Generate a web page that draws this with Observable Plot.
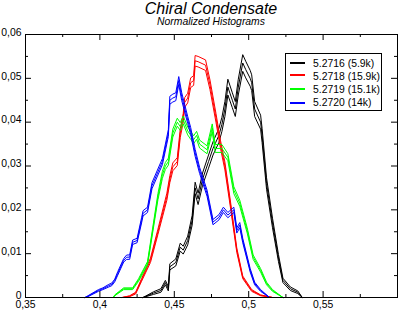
<!DOCTYPE html>
<html>
<head>
<meta charset="utf-8">
<script src="https://cdn.jsdelivr.net/npm/d3@7"></script>
<script src="https://cdn.jsdelivr.net/npm/@observablehq/plot@0.6"></script>
<style>
  html, body { margin: 0; padding: 0; background: #fff; }
  #wrap { position: relative; width: 399px; height: 310px; font-family: "Liberation Sans", Arial, sans-serif; }
  #wrap svg { position: absolute; left: 0; top: 0; }
  .title { position: absolute; left: 25px; width: 372px; text-align: center; font-style: italic; line-height: 1; color: #000; }
  #t1 { top: 0.5px; font-size: 16px; }
  #t2 { top: 16.7px; font-size: 10.4px; }
  #legend { position: absolute; left: 285px; top: 53px; width: 97px; height: 58px; box-sizing: border-box;
            border: 1px solid #000; background: #fff; }
  #legend .sw { position: absolute; left: 4px; width: 15px; height: 0; border-top: 2px solid; }
  #legend .tx { position: absolute; left: 27px; height: 13px; line-height: 13px; font-size: 10.4px; white-space: nowrap; color: #000; }
</style>
</head>
<body>
<div id="wrap">
  <div class="title" id="t1">Chiral Condensate</div>
  <div class="title" id="t2">Normalized Histograms</div>
</div>
<script>
// ---- data ----
const seriesNames = ["5.2716 (5.9k)", "5.2718 (15.9k)", "5.2719 (15.1k)", "5.2720 (14k)"];
const seriesColors = ["#000000", "#ff0000", "#00ff00", "#0000ff"];

const x5716 = [0.429,0.436,0.441,0.444,0.446,0.447,0.451,0.454,0.456,0.459,0.462,0.464,0.466,0.469,0.473,0.476,0.480,0.482,0.484,0.486,0.489,0.491,0.493,0.496,0.498,0.501,0.502,0.504,0.508,0.509,0.512,0.516,0.520,0.523,0.528,0.533,0.536];
const y5716 = [0,0.001,0.0016,0.0034,0.002,0.007,0.008,0.0115,0.0108,0.013,0.0176,0.025,0.0225,0.027,0.031,0.034,0.037,0.0395,0.043,0.048,0.045,0.043,0.048,0.0535,0.052,0.050,0.049,0.043,0.040,0.037,0.026,0.017,0.009,0.0039,0.002,0.0012,0];
const e5716 = [0,0.0003,0.0004,0.0005,0.0005,0.0007,0.0008,0.0009,0.0009,0.001,0.0011,0.0013,0.0013,0.0014,0.0015,0.0015,0.0016,0.0016,0.0017,0.0018,0.0017,0.0017,0.0018,0.0019,0.0019,0.0018,0.0018,0.0017,0.0016,0.0016,0.0013,0.0011,0.0008,0.0005,0.0004,0.0003,0];

const x5718 = [0.415,0.420,0.424,0.428,0.434,0.439,0.445,0.447,0.449,0.452,0.454,0.456,0.457,0.459,0.461,0.463,0.464,0.466,0.471,0.474,0.478,0.481,0.484,0.488,0.492,0.496,0.502,0.508,0.516];
const y5718 = [0,0.0003,0.001,0.004,0.0085,0.015,0.023,0.027,0.0298,0.031,0.0375,0.041,0.0445,0.0455,0.049,0.0495,0.054,0.0538,0.053,0.0485,0.041,0.035,0.030,0.0206,0.0108,0.0046,0.0016,0.0005,0];
const e5718 = [0,0.0001,0.0002,0.0003,0.0005,0.0006,0.0008,0.0008,0.0009,0.0009,0.001,0.001,0.0011,0.0011,0.0011,0.0011,0.0012,0.0012,0.0012,0.0011,0.001,0.0009,0.0009,0.0007,0.0005,0.0003,0.0002,0.0001,0];

const x5719 = [0.409,0.410,0.416,0.422,0.426,0.432,0.439,0.442,0.444,0.446,0.449,0.452,0.454,0.456,0.459,0.461,0.463,0.465,0.467,0.472,0.4755,0.4775,0.482,0.486,0.490,0.494,0.499,0.503,0.508,0.512,0.516,0.523];
const y5719 = [0,0.0005,0.002,0.002,0.004,0.0078,0.023,0.028,0.030,0.031,0.0375,0.040,0.039,0.0405,0.038,0.037,0.036,0.037,0.035,0.0337,0.0387,0.034,0.034,0.032,0.0245,0.0215,0.0153,0.0092,0.0062,0.0032,0.0016,0];
const e5719 = [0,0.0001,0.0002,0.0002,0.0003,0.0004,0.0007,0.0008,0.0008,0.0008,0.0009,0.0009,0.0009,0.0009,0.0009,0.0009,0.0009,0.0009,0.0009,0.0009,0.0009,0.0009,0.0009,0.0008,0.0008,0.0007,0.0006,0.0005,0.0004,0.0003,0.0002,0];

const x5720 = [0.390,0.392,0.399,0.402,0.406,0.408,0.410,0.412,0.416,0.418,0.420,0.422,0.425,0.428,0.429,0.432,0.435,0.442,0.446,0.447,0.449,0.451,0.453,0.455,0.459,0.461,0.464,0.467,0.472,0.476,0.480,0.483,0.486,0.490,0.492,0.494,0.496,0.501,0.504,0.508,0.514];
const y5720 = [0,0.0003,0.0016,0.002,0.0027,0.003,0.0039,0.0055,0.0085,0.0092,0.0092,0.0126,0.013,0.0176,0.0192,0.020,0.0255,0.031,0.0375,0.045,0.0455,0.0458,0.0495,0.0458,0.0405,0.038,0.033,0.029,0.0238,0.0172,0.0183,0.020,0.0188,0.020,0.0153,0.0165,0.013,0.0062,0.0032,0.0016,0];
const e5720 = [0,0.0001,0.0002,0.0002,0.0003,0.0003,0.0003,0.0004,0.0004,0.0005,0.0005,0.0005,0.0005,0.0006,0.0006,0.0006,0.0007,0.0007,0.0008,0.0009,0.0009,0.0009,0.0009,0.0009,0.0008,0.0008,0.0008,0.0007,0.0007,0.0006,0.0006,0.0006,0.0006,0.0006,0.0006,0.0006,0.0005,0.0004,0.0003,0.0002,0];

const xMajor = [0.35, 0.4, 0.45, 0.5, 0.55];
const xMinor = [0.375, 0.425, 0.475, 0.525, 0.575];
const yMajor = [0, 0.01, 0.02, 0.03, 0.04, 0.05, 0.06];
const yMinor = [0.005, 0.015, 0.025, 0.035, 0.045, 0.055];

// ---- build ----
const W = 399, H = 310;
const mT = 34, mB = 13, mL = 25, mR = 2;
const innerW = W - mL - mR, innerH = H - mT - mB;
const majLen = 6, minLen = 3;

const seriesData = [[x5716, y5716, e5716], [x5718, y5718, e5718], [x5719, y5719, e5719], [x5720, y5720, e5720]];

function rowsFor(xs, ys, es) {
  const out = [];
  for (const k of [-1, 0, 1]) {
    xs.forEach((x, i) => out.push({x, y: ys[i] + k * es[i], k}));
  }
  return out;
}

const fmt = d => d === 0 ? "0" : String(+d.toFixed(3)).replace(".", ",");

const lineMarks = seriesData.map((s, i) =>
  Plot.line(rowsFor(...s), {x: "x", y: "y", z: "k", stroke: seriesColors[i], strokeWidth: 1})
);

const chart = Plot.plot({
  width: W, height: H,
  marginTop: mT, marginBottom: mB, marginLeft: mL, marginRight: mR,
  style: {fontFamily: "Liberation Sans, Arial, sans-serif", fontSize: "10.4px", background: "transparent", color: "#000"},
  x: {domain: [0.35, 0.6]},
  y: {domain: [0, 0.06]},
  marks: [
    ...lineMarks,
    // inward ticks on all four sides
    Plot.tickX(xMajor.slice(1), {x: d => d, stroke: "#000", insetTop: innerH - majLen}),
    Plot.tickX(xMajor.slice(1), {x: d => d, stroke: "#000", insetBottom: innerH - majLen}),
    Plot.tickX(xMinor, {x: d => d, stroke: "#000", insetTop: innerH - minLen}),
    Plot.tickX(xMinor, {x: d => d, stroke: "#000", insetBottom: innerH - minLen}),
    Plot.tickY(yMajor.slice(1, -1), {y: d => d, stroke: "#000", insetRight: innerW - majLen}),
    Plot.tickY(yMajor.slice(1, -1), {y: d => d, stroke: "#000", insetLeft: innerW - majLen}),
    Plot.tickY(yMinor, {y: d => d, stroke: "#000", insetRight: innerW - minLen}),
    Plot.tickY(yMinor, {y: d => d, stroke: "#000", insetLeft: innerW - minLen}),
    Plot.frame({stroke: "#000", strokeWidth: 1}),
    Plot.axisX(xMajor, {tickSize: 0, tickPadding: 3.5, tickFormat: fmt, label: null}),
    Plot.axisY(yMajor, {tickSize: 0, tickPadding: 4, dy: -2, tickFormat: fmt, label: null})
  ]
});

const wrap = document.getElementById("wrap");
wrap.insertBefore(chart, wrap.firstChild);

// legend
const legend = document.createElement("div");
legend.id = "legend";
const rowCenters = [8, 20, 34, 48];
const textCenters = [8.5, 21.5, 34.5, 48];
seriesNames.forEach((name, i) => {
  const sw = document.createElement("div");
  sw.className = "sw";
  sw.style.top = rowCenters[i] + "px";
  sw.style.borderTopColor = seriesColors[i];
  const tx = document.createElement("div");
  tx.className = "tx";
  tx.style.top = (textCenters[i] - 6) + "px";
  tx.textContent = name;
  legend.appendChild(sw);
  legend.appendChild(tx);
});
wrap.appendChild(legend);
</script>
</body>
</html>
